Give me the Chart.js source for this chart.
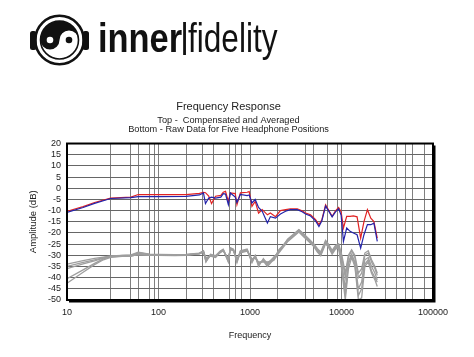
<!DOCTYPE html>
<html><head><meta charset="utf-8">
<script src="https://cdn.jsdelivr.net/npm/chart.js@4/dist/chart.umd.min.js"></script>
<style>
html,body{margin:0;padding:0;background:#fff;width:474px;height:357px;overflow:hidden;}
#c{position:absolute;left:0;top:0;}
.lg{position:absolute;color:#111;font-family:"Liberation Sans",Arial,sans-serif;white-space:nowrap;transform-origin:0 0;}
</style></head><body>
<canvas id="c" width="474" height="357"></canvas>
<svg width="100" height="80" style="position:absolute;left:0;top:0">
 <g transform="translate(59.5,40)">
  <circle r="24.2" fill="none" stroke="#111" stroke-width="2.6"/>
  <rect x="-29.5" y="-9" width="6.5" height="19" rx="2.5" fill="#111"/>
  <rect x="23" y="-9" width="6.5" height="19" rx="2.5" fill="#111"/>
  <circle r="19" fill="#fff" stroke="#111" stroke-width="1.6"/>
  <path d="M-19,0 A19,19 0 0 1 19,0 A9.5,9.5 0 0 0 0,0 A9.5,9.5 0 0 1 -19,0 Z" fill="#111"/>
  <circle cx="-9.5" cy="0" r="3.3" fill="#fff"/>
  <circle cx="9.5" cy="0" r="3.3" fill="#111"/>
 </g>
</svg>
<div class="lg" style="left:98px;top:16.3px;font-weight:bold;font-size:40px;line-height:45px;transform:scaleX(0.86);">inner</div>
<div class="lg" style="left:180px;top:16px;font-size:35px;line-height:40px;">|</div>
<div class="lg" style="left:188px;top:16.3px;font-size:40px;line-height:45px;transform:scaleX(0.79);">fidelity</div>
<script>
// ---- data ----
const freqTop = [10,15,20,30,50,60,100,200,280,310,326,354,380,420,480,510,540,580,610,690,720,785,930,980,1050,1140,1240,1360,1550,1670,1900,2150,2450,2760,3280,3710,4050,4590,5210,5670,6100,6700,7200,7900,8600,9300,9900,10500,11400,12400,13500,14800,16200,17600,19200,20900,22600,24600];
const redAvg = [-10.3,-8.2,-6.4,-4.4,-4.0,-2.8,
 -2.9,-2.9,-2.3,-1.8,-2.0,-3.5,-6.9,-3.6,-3.2,-1.8,
 -1.4,-5.9,-2.1,-2.4,-7.4,-2.1,-1.8,-1.5,-8.1,-5.9,
 -11.1,-9.6,-11.9,-11.1,-12.7,-10.0,-9.6,-9.2,-9.2,-10.1,
 -11.1,-11.9,-14.1,-16.3,-14.1,-7.4,-9.6,-12.6,-10.1,-8.6,
 -10.5,-17.8,-12.6,-12.6,-12.4,-12.8,-22.3,-14.9,-9.6,-13.4,
 -14.9,-22.3];
const blueAvg = [-10.8,-8.6,-6.8,-4.6,-4.2,-3.8,
 -3.8,-3.6,-3.0,-2.1,-6.9,-4.4,-4.0,-4.4,-4.0,-2.4,
 -2.6,-7.4,-2.1,-4.0,-6.4,-2.8,-3.3,-3.0,-6.6,-5.0,
 -8.6,-10.3,-15.6,-12.7,-13.4,-11.5,-10.3,-9.6,-9.6,-10.5,
 -11.5,-12.4,-14.6,-17.1,-14.6,-8.0,-10.0,-12.8,-10.6,-9.2,
 -12.0,-23.8,-17.8,-19.3,-20.0,-20.8,-26.8,-20.8,-16.3,-16.3,
 -15.6,-23.8];
const freqRaw = [10,15,20,25,30,40,50,60,80,100,150,200,280,310,330,370,420,470,510,580,610,660,720,785,930,1050,1140,1240,1400,1550,1820,2080,2570,3000,3420,3880,4410,5010,5460,5930,6450,6700,7200,7900,8600,9300,10100,11000,11900,12900,14000,15300,16600,18000,19600,21300,23200,24600];
const raw1 = [-34,-32.4,-31.4,-30.8,-30.3,-30,-29.8,-28.6,-29.5,-29.6,-29.7,-29.6,-29,-28,-32.5,-29.8,-30.5,-28.3,-27.5,-32.8,-26.8,-27.5,-32.8,-28.3,-27.5,-32.8,-30.5,-34.3,-32,-33.5,-31.2,-28,-23.1,-20.8,-18.6,-20.8,-23.1,-25.3,-27.5,-29,-25.3,-23.8,-25.3,-28.3,-26,-25.3,-31,-40,-31,-28,-31,-40,-38,-30,-29,-33,-36,-39];
const raw2 = [-35,-33.2,-32,-31,-30.5,-30.2,-30,-29,-29.8,-29.8,-29.9,-29.8,-29.2,-28.3,-31.5,-30.2,-30.3,-28.6,-27.8,-31.8,-27.2,-27.9,-32,-28.6,-27.9,-32,-30.8,-33.5,-32.6,-35,-31.8,-27.4,-23.6,-21.3,-19.2,-21.4,-23.6,-25.9,-28.2,-29.8,-26,-24.4,-26,-29,-26.8,-26,-33.5,-45,-33,-29.5,-33,-45,-42,-32,-31,-35,-38,-41];
const raw3 = [-36,-33.8,-32.5,-31.3,-30.7,-30.4,-30.3,-29.8,-30,-30,-30,-29.9,-29.4,-28.5,-32.8,-30,-30.8,-28.5,-27.6,-33,-27,-27.7,-33.3,-28.4,-27.6,-33.4,-30.3,-35,-31.5,-34,-30.8,-28.6,-22.8,-20.5,-18.5,-20.5,-22.7,-25,-27,-28.5,-25,-23.3,-25,-27.8,-25.6,-24.8,-30,-38,-30,-27.5,-30,-38,-36,-29,-28,-32,-35,-38];
const raw4 = [-40.5,-36.5,-33.6,-31.6,-30.6,-30.1,-30.1,-28.8,-29.6,-29.7,-29.8,-29.7,-29.1,-28.1,-33,-29.5,-30.2,-28.2,-27.3,-32.2,-26.6,-27.3,-32.5,-28,-27.2,-32.4,-30,-33.8,-32.2,-34.5,-31.5,-27.8,-23.4,-21,-19,-21.1,-23.4,-25.6,-27.8,-29.5,-25.8,-24.2,-25.6,-28.6,-26.4,-25.8,-35,-48,-34,-30,-34,-48,-45,-34,-32,-37,-40,-42];
const raw5 = [-42.5,-37.6,-34.2,-32,-30.9,-30.5,-30.5,-29.5,-30,-30,-30.1,-30,-29.3,-28.6,-31,-30.4,-31,-28.9,-28,-31.5,-27.4,-28,-31.8,-28.9,-28.1,-31.6,-31.2,-33,-33,-33,-32.3,-28.8,-24,-21.6,-19.6,-21.8,-24,-26.2,-28.6,-30.2,-26.5,-24.8,-26.4,-29.5,-27.2,-26.6,-37,-50,-36,-31,-35,-50,-49,-35,-33,-38,-41,-44];
const xTickLabels = [10, 100, 1000, 10000, 100000];
// vertical grid lines as visible in the reference
const xGridLines = [10,30,50,60,80,90,100,200,300,400,600,700,800,1000,2000,4000,5000,7000,9000,10000,30000,40000,50000,60000,80000,100000];
const yTickLabels = [20, 15, 10, 5, 0, -5, -10, -15, -20, -25, -30, -35, -40, -45, -50];
const yMin = -50, yMax = 20;

const pts = (fs, vs) => fs.map((f, i) => ({x: f, y: vs[i]}));
const grayStyle = {borderColor: 'rgb(158,158,158)', borderWidth: 1.3, pointRadius: 0, tension: 0, fill: false};

const framePlugin = {
  id: 'frame',
  afterDatasetsDraw(chart) {
    const {ctx, chartArea: a} = chart;
    ctx.save();
    ctx.strokeStyle = '#000';
    ctx.lineWidth = 2;
    ctx.strokeRect(a.left, a.top, a.right - a.left, a.bottom - a.top);
    ctx.beginPath();
    ctx.moveTo(a.left + 2, a.bottom + 1.5);
    ctx.lineTo(a.right + 1.5, a.bottom + 1.5);
    ctx.lineTo(a.right + 1.5, a.top + 2);
    ctx.stroke();
    ctx.restore();
  }
};

Chart.defaults.font.family = '"Liberation Sans", Arial, sans-serif';
Chart.defaults.color = '#222';

new Chart(document.getElementById('c'), {
  type: 'line',
  data: {
    datasets: [
      {label: 'Right', data: pts(freqTop, blueAvg), borderColor: 'rgb(35,35,170)', borderWidth: 1.2, pointRadius: 0, tension: 0},
      {label: 'Left', data: pts(freqTop, redAvg), borderColor: 'rgb(225,35,35)', borderWidth: 1.2, pointRadius: 0, tension: 0},
      Object.assign({label: 'Raw 1', data: pts(freqRaw, raw1)}, grayStyle),
      Object.assign({label: 'Raw 2', data: pts(freqRaw, raw2)}, grayStyle),
      Object.assign({label: 'Raw 3', data: pts(freqRaw, raw3)}, grayStyle),
      Object.assign({label: 'Raw 4', data: pts(freqRaw, raw4)}, grayStyle),
      Object.assign({label: 'Raw 5', data: pts(freqRaw, raw5)}, grayStyle)
    ]
  },
  options: {
    responsive: false,
    animation: false,
    devicePixelRatio: 1,
    layout: {padding: {left: 24, right: 41, top: 0, bottom: 12}},
    plugins: {
      legend: {display: false},
      tooltip: {enabled: false},
      title: {display: true, text: 'Frequency Response', font: {size: 11, weight: 'normal'}, color: '#222', padding: {top: 100, bottom: 2}},
      subtitle: {display: true, text: ['Top -  Compensated and Averaged', 'Bottom - Raw Data for Five Headphone Positions'], font: {size: 9.2, lineHeight: 1.05}, color: '#222', padding: {top: 0, bottom: 9}}
    },
    scales: {
      x: {
        type: 'logarithmic', min: 10, max: 100000,
        afterBuildTicks: s => { s.ticks = xGridLines.map(v => ({value: v, major: xTickLabels.includes(v)})); },
        afterFit: s => { s.height = 45; },
        ticks: {autoSkip: false, maxRotation: 0, padding: 7, font: {size: 9}, color: '#222',
          callback: v => xTickLabels.includes(v) ? String(v) : ''},
        grid: {color: '#808080', lineWidth: 1, drawTicks: false},
        border: {display: false},
        title: {display: true, text: 'Frequency', font: {size: 9}, color: '#222', padding: {top: 4, bottom: 4}}
      },
      y: {
        min: yMin, max: yMax,
        afterBuildTicks: s => { s.ticks = yTickLabels.map(v => ({value: v})); },
        afterFit: s => { s.width = 43; },
        ticks: {autoSkip: false, padding: 6, font: {size: 9}, color: '#222'},
        grid: {color: '#666', lineWidth: 1, drawTicks: false},
        border: {display: false},
        title: {display: true, text: 'Amplitude (dB)', font: {size: 9.5}, color: '#222', padding: {top: 4, bottom: 4}}
      }
    }
  },
  plugins: [framePlugin]
});
</script>
</body></html>
